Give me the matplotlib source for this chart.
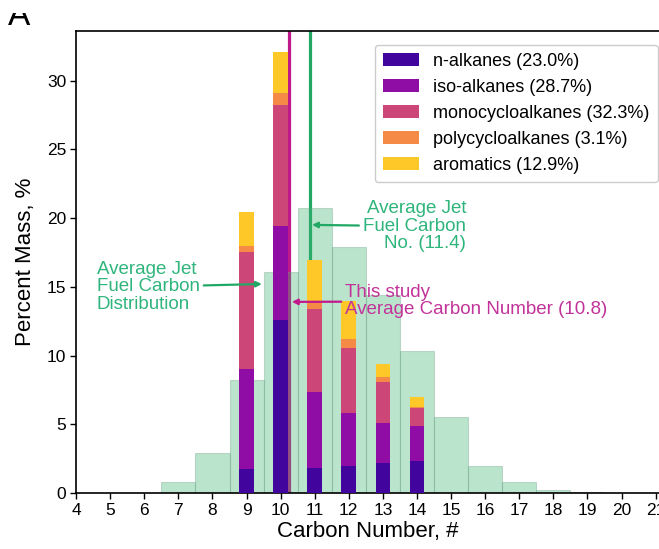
import matplotlib
matplotlib.use('Agg')
import matplotlib.pyplot as plt
from matplotlib.patches import Rectangle

plt.rcParams['font.family'] = ['Liberation Sans', 'DejaVu Sans']

# average jet fuel carbon distribution (background histogram)
jetCarbon = [7, 8, 9, 10, 11, 12, 13, 14, 15, 16, 17, 18, 19]
jetMass = [0.8, 2.9, 8.2, 16.1, 20.7, 17.9, 14.4, 10.3, 5.5, 2.0, 0.8, 0.2, 0.05]

# this study, stacked by hydrocarbon class
carbon = [9, 10, 11, 12, 13, 14]
nAlkanes = [1.75, 12.6, 1.84, 1.97, 2.2, 2.33]
isoAlkanes = [7.25, 6.85, 5.49, 3.88, 2.92, 2.55]
monoCyclo = [8.53, 8.74, 6.07, 4.69, 2.98, 1.32]
polyCyclo = [0.41, 0.91, 0.6, 0.65, 0.34, 0.09]
aromatics = [2.53, 3.0, 2.97, 2.81, 0.97, 0.72]

classLabels = ['n-alkanes (23.0%)', 'iso-alkanes (28.7%)', 'monocycloalkanes (32.3%)',
               'polycycloalkanes (3.1%)', 'aromatics (12.9%)']
classColors = ['#41049d', '#8f0da4', '#cc4778', '#f58a47', '#fdc828']

avgStudy = 10.8
avgJet = 11.4
# the average lines sit shifted left of the bar centres in the original
lineOffset = 0.55

colorGreen = '#22a865'
colorGreenText = '#2fb57c'
colorMagenta = '#c0198c'
colorMagentaText = '#c2339a'

fig = plt.figure(figsize=(6.59, 5.49), dpi=100)
ax = fig.add_axes([0.1155, 0.102, 0.8845, 0.8415])

# average lines first so the histogram and bars sit on top
ax.axvline(avgStudy - lineOffset, color=colorMagenta, lw=2.3, zorder=1)
ax.axvline(avgJet - lineOffset, color=colorGreen, lw=2.3, zorder=1)

ax.bar(jetCarbon, jetMass, width=1.0, color='#3cb371', alpha=0.35,
       edgecolor='#6f9f88', linewidth=0.8, zorder=2)

bottom = [0.0] * len(carbon)
for vals, lab, col in zip([nAlkanes, isoAlkanes, monoCyclo, polyCyclo, aromatics],
                          classLabels, classColors):
    ax.bar(carbon, vals, width=0.43, bottom=bottom, color=col, label=lab, zorder=3)
    bottom = [b + v for b, v in zip(bottom, vals)]

arrowGreen = dict(arrowstyle='-|>', color=colorGreen, lw=1.6, mutation_scale=8,
                  shrinkA=1, shrinkB=0)
arrowMagenta = dict(arrowstyle='-|>', color=colorMagenta, lw=1.6, mutation_scale=8,
                    shrinkA=1, shrinkB=0)

annFont = 13.5
ax.annotate('Average Jet\nFuel Carbon\nDistribution', xy=(9.45, 15.2), xytext=(4.6, 15.0),
            ha='left', va='center', fontsize=annFont, color=colorGreenText, linespacing=1.05,
            arrowprops=arrowGreen, zorder=5)
ax.annotate('Average Jet\nFuel Carbon\nNo. (11.4)', xy=(10.92, 19.5), xytext=(15.44, 19.4),
            ha='right', va='center', multialignment='right', fontsize=annFont,
            linespacing=1.05, color=colorGreenText, arrowprops=arrowGreen, zorder=5)
ax.annotate('This study\nAverage Carbon Number (10.8)', xy=(10.33, 13.9), xytext=(11.9, 13.95),
            ha='left', va='center', fontsize=annFont, linespacing=1.0,
            color=colorMagentaText, arrowprops=arrowMagenta, zorder=5)

ax.set_xlim(4, 21.1)
ax.set_ylim(0, 33.6)
ax.set_xticks(range(4, 22))
ax.set_yticks(range(0, 31, 5))
ax.tick_params(labelsize=12.5, length=4, width=1, direction='out', pad=3)
for side in ['left', 'bottom', 'top']:
    ax.spines[side].set_linewidth(1.2)
ax.spines['right'].set_visible(False)

ax.set_xlabel('Carbon Number, #', fontsize=16, labelpad=2)
ax.set_ylabel('Percent Mass, %', fontsize=16, labelpad=8)

ax.legend(loc='upper right', bbox_to_anchor=(0.998, 0.97), borderaxespad=0,
          fontsize=13, handlelength=2.0, handleheight=0.7, labelspacing=0.5,
          handletextpad=0.8, borderpad=0.45, framealpha=1, edgecolor='#cccccc',
          fancybox=True)

# panel letter, cropped at the top as in the source figure
fig.text(0.012, 1 - 25 / 549, 'A', fontsize=24, ha='left', va='baseline')
fig.patches.append(Rectangle((0, 1 - 13 / 549), 0.12, 13 / 549, transform=fig.transFigure,
                             facecolor='white', edgecolor='none', zorder=10))

fig.savefig('out.png', dpi=100)
